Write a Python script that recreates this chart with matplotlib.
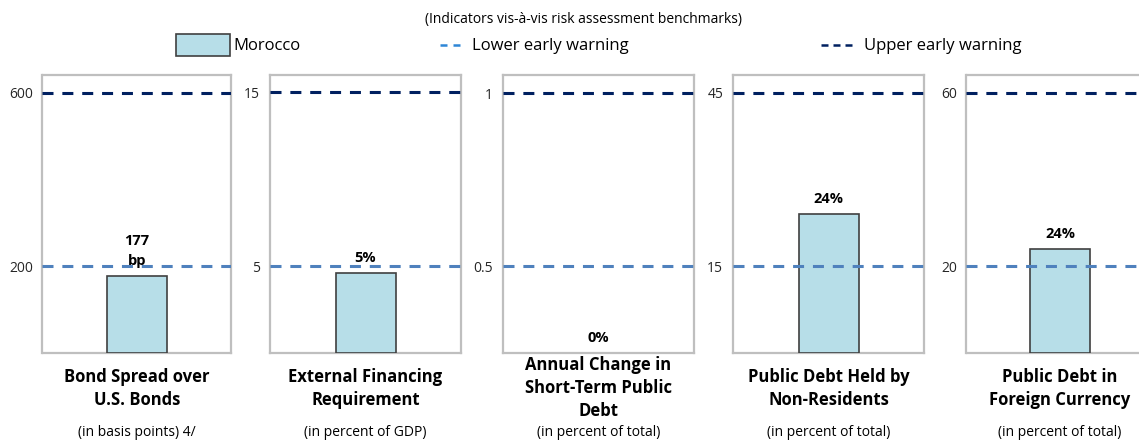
import matplotlib
matplotlib.use("Agg")
import matplotlib.pyplot as plt
from matplotlib.lines import Line2D
from matplotlib.patches import Rectangle

plt.rcParams['font.family'] = ['Open Sans', 'DejaVu Sans']

indicators = [
    "Bond Spread over\nU.S. Bonds",
    "External Financing\nRequirement",
    "Annual Change in\nShort-Term Public\nDebt",
    "Public Debt Held by\nNon-Residents",
    "Public Debt in\nForeign Currency",
]
units = [
    "(in basis points) 4/",
    "(in percent of GDP)",
    "(in percent of total)",
    "(in percent of total)",
    "(in percent of total)",
]
morocco = [177, 4.6, 0, 24, 24]
value_fmt = ["{:.0f}\nbp", "{:.0f}%", "{:.0f}%", "{:.0f}%", "{:.0f}%"]
lower_warning = [200, 5, 0.5, 15, 20]
upper_warning = [600, 15, 1, 45, 60]
y_limits = [(0, 641), (0, 16.0), (0.25, 1.052), (0, 48.1), (0, 64.1)]

BAR_FILL = "#B7DEE8"
BAR_EDGE = "#404040"
LOWER_COLOR = "#4F81BD"
UPPER_COLOR = "#002060"
FRAME_COLOR = "#BFBFBF"
DASH = (0, (3.6, 2.9))

W, H = 1139, 440
# panel frames in pixels: left, right; all share the same top/bottom
panel_x = [(42.5, 231.5), (270, 461), (503, 693.5), (733, 924), (966.5, 1153.5)]
TOP, BOTTOM = 75, 353
BAR_PX = 60

fig = plt.figure(figsize=(W / 100, H / 100), dpi=100)

for i, (left, right) in enumerate(panel_x):
    ax = fig.add_axes([left / W, (H - BOTTOM) / H, (right - left) / W, (BOTTOM - TOP) / H])
    center = (left + right) / 2
    ax.set_xlim((left - center) / BAR_PX, (right - center) / BAR_PX)
    ax.set_ylim(*y_limits[i])

    ax.bar([0], [morocco[i]], width=1, color=BAR_FILL, edgecolor=BAR_EDGE, linewidth=1.2, zorder=2)
    ax.axhline(lower_warning[i], color=LOWER_COLOR, lw=2.2, linestyle=DASH, zorder=3)
    ax.axhline(upper_warning[i], color=UPPER_COLOR, lw=2.2, linestyle=DASH, zorder=3)

    ax.set_xticks([])
    ax.set_yticks([lower_warning[i], upper_warning[i]])
    ax.set_yticklabels([f"{v:g}" for v in (lower_warning[i], upper_warning[i])])
    ax.tick_params(axis='y', length=0, pad=7, labelsize=10, labelcolor="#262626")
    for spine in ax.spines.values():
        spine.set_color(FRAME_COLOR)
        spine.set_linewidth(1.6)
        spine.set_zorder(1)

    # value label just above the bar (or the axis floor when the bar is off-scale)
    y0 = max(morocco[i], y_limits[i][0])
    ax.annotate(value_fmt[i].format(morocco[i]), xy=(0, y0), xytext=(0, 6), textcoords='offset points',
                ha='center', va='bottom', fontsize=10.5, fontweight='bold', linespacing=1.5,
                annotation_clip=False)

    ax.annotate(indicators[i], xy=(0, 0), xycoords=('data', 'axes fraction'), xytext=(0, -25.5),
                textcoords='offset points', ha='center', va='center', fontsize=12, fontweight='bold',
                linespacing=1.36, annotation_clip=False)
    ax.annotate(units[i], xy=(0, 0), xycoords=('data', 'axes fraction'), xytext=(0, -57.5),
                textcoords='offset points', ha='center', va='center', fontsize=10,
                annotation_clip=False)

fig.text(583.5 / W, 1 - 19 / H, "(Indicators vis-à-vis risk assessment benchmarks)",
         ha='center', va='center', fontsize=10)

# legend row, drawn in figure pixels
legend_y = 1 - 45.5 / H
fig.patches.append(Rectangle((176 / W, 1 - 56.5 / H), 54 / W, 22 / H, transform=fig.transFigure,
                             facecolor=BAR_FILL, edgecolor=BAR_EDGE, linewidth=1.2))
fig.text(233.5 / W, legend_y, "Morocco", ha='left', va='center', fontsize=12)
fig.lines.append(Line2D([440 / W, 460 / W], [legend_y, legend_y], transform=fig.transFigure,
                        color="#2E86D6", lw=1.8, linestyle=(0, (2.8, 2.4))))
fig.text(472.5 / W, legend_y, "Lower early warning", ha='left', va='center', fontsize=12)
fig.lines.append(Line2D([821 / W, 852 / W], [legend_y, legend_y], transform=fig.transFigure,
                        color=UPPER_COLOR, lw=1.8, linestyle=(0, (2.8, 2.0))))
fig.text(864.5 / W, legend_y, "Upper early warning", ha='left', va='center', fontsize=12)

fig.savefig("out.png", dpi=100)
